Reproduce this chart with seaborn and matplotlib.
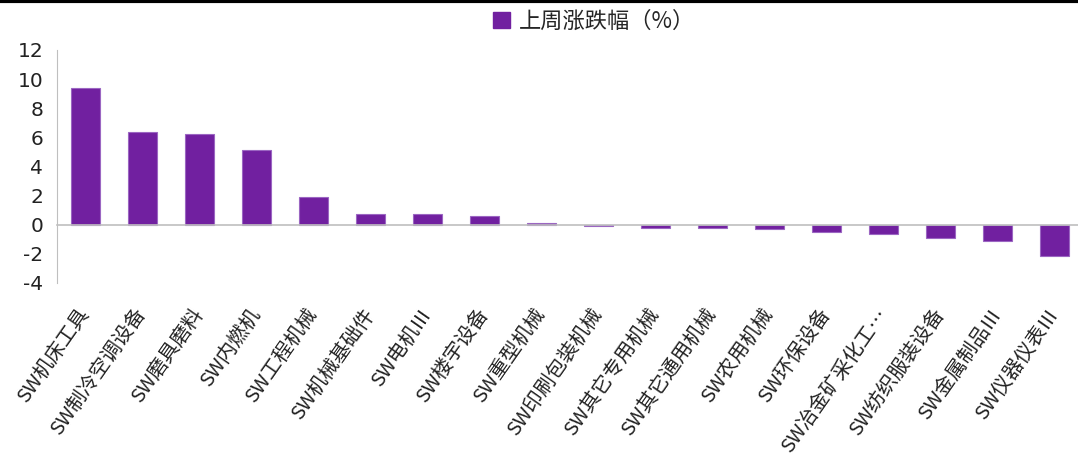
import numpy as np
import pandas as pd
import seaborn as sns
import matplotlib.pyplot as plt
from matplotlib.lines import Line2D
from matplotlib.patches import Rectangle

sns.set_style("white")
plt.rcParams['font.family'] = ['Noto Sans CJK SC', 'DejaVu Sans']
plt.rcParams['axes.unicode_minus'] = False

# 申万机械三级行业 上周涨跌幅
categories = ['SW机床工具', 'SW制冷空调设备', 'SW磨具磨料', 'SW内燃机', 'SW工程机械',
              'SW机械基础件', 'SW电机Ⅲ', 'SW楼宇设备', 'SW重型机械', 'SW印刷包装机械',
              'SW其它专用机械', 'SW其它通用机械', 'SW农用机械', 'SW环保设备',
              'SW冶金矿采化工…', 'SW纺织服装设备', 'SW金属制品Ⅲ', 'SW仪器仪表Ⅲ']
changes = [9.4, 6.4, 6.25, 5.1, 1.9, 0.75, 0.75, 0.57, 0.12, -0.1,
           -0.2, -0.2, -0.27, -0.47, -0.65, -0.92, -1.1, -2.15]
series_name = '上周涨跌幅（%）'
yticks = [-4, -2, 0, 2, 4, 6, 8, 10, 12]

df = pd.DataFrame({'industry': categories, 'change': changes})

purple = '#7120A0'
grey = '#BFBFBF'

fig = plt.figure(figsize=(10.78, 4.59), dpi=100)
ax = fig.add_axes([57 / 1078, 1 - 283 / 459, 1026 / 1078, (283 - 50) / 459])

sns.barplot(data=df, x='industry', y='change', color=purple, width=0.5,
            edgecolor='#9B66C2', linewidth=0.8, saturation=1, ax=ax)

ax.set_ylim(-4, 12)
ax.set_xlim(-0.5, len(categories) - 0.5)
ax.set_yticks(yticks)
ax.set_yticklabels([str(v) for v in yticks], fontsize=14.5, color='#222222',
                   family=['DejaVu Sans'])
ax.set_xlabel('')
ax.set_ylabel('')

for s in ['top', 'right']:
    ax.spines[s].set_visible(False)
ax.spines['left'].set_color(grey)
ax.spines['bottom'].set_color(grey)
ax.spines['bottom'].set_position(('data', 0))
ax.spines['bottom'].set_linewidth(1.2)

ax.tick_params(axis='y', direction='out', length=5, color=grey, pad=5)
# separators between categories on the zero line
ax.set_xticks(np.arange(-0.5, len(categories), 1))
ax.set_xticklabels([])
ax.tick_params(axis='x', direction='out', length=6, color=grey)

# category labels at the bottom of the plot
sec = ax.secondary_xaxis('bottom')
sec.set_xticks(range(len(categories)))
sec.set_xticklabels(categories, rotation=55, ha='right', va='center',
                    rotation_mode='anchor', fontsize=14.5, color='#222222')
sec.tick_params(length=0, pad=20)
sec.spines['bottom'].set_visible(False)

# legend at top centre
handle = Rectangle((0, 0), 1, 1, color=purple)
fig.legend([handle], [series_name], loc='center', bbox_to_anchor=(0.551, 1 - 21 / 459),
           frameon=False, fontsize=16, handlelength=0.75, handleheight=0.75,
           handletextpad=0.4)

# black border along the top edge
fig.add_artist(Line2D([0, 1], [0.997, 0.997], color='black', linewidth=3,
                      transform=fig.transFigure))

fig.savefig('out.png', dpi=100, facecolor='white')
